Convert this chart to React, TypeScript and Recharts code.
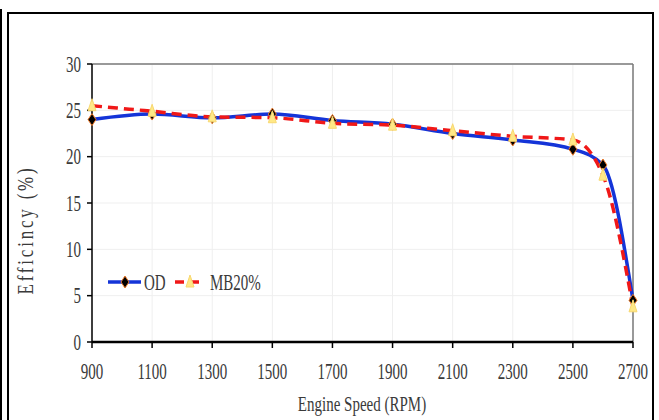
import React from "react";
import { LineChart, Line, XAxis, YAxis, CartesianGrid, ReferenceLine, Legend } from "recharts";

const rpm = [900, 1100, 1300, 1500, 1700, 1900, 2100, 2300, 2500, 2600, 2700];
const od = [24.0, 24.6, 24.2, 24.6, 23.9, 23.5, 22.5, 21.8, 20.8, 19.1, 4.5];
const mb20 = [25.5, 24.9, 24.3, 24.2, 23.6, 23.4, 22.8, 22.2, 21.8, 18.0, 3.8];
const xTicks = [900, 1100, 1300, 1500, 1700, 1900, 2100, 2300, 2500, 2700];
const yTicks = [0, 5, 10, 15, 20, 25, 30];

const data = rpm.map((r, i) => ({ rpm: r, OD: od[i], MB20: mb20[i] }));

const FONT = "'Liberation Serif', 'Times New Roman', serif";
const TEXT = "#3a3a3a";
const SY = 1.55; // the source text is stretched tall

const Diamond = ({ cx, cy }: { cx?: number; cy?: number }) => {
  if (cx == null || cy == null) return null;
  return (
    <polygon
      points={`${cx},${cy - 6} ${cx + 4},${cy} ${cx},${cy + 6} ${cx - 4},${cy}`}
      fill="#000"
      stroke="#f07a28"
      strokeWidth={1}
    />
  );
};

const Triangle = ({ cx, cy }: { cx?: number; cy?: number }) => {
  if (cx == null || cy == null) return null;
  return (
    <polygon
      points={`${cx},${cy - 7} ${cx + 4},${cy + 5} ${cx - 4},${cy + 5}`}
      fill="#ffe886"
      stroke="#f8d870"
      strokeWidth={1}
    />
  );
};

const XTick = ({ x, payload }: any) => (
  <text
    transform={`translate(${x},371) scale(1,${SY})`}
    x={0}
    y={5}
    textAnchor="middle"
    fontFamily={FONT}
    fontSize={15}
    fill={TEXT}
  >
    {payload.value}
  </text>
);

const YTick = ({ y, payload }: any) => (
  <text
    transform={`translate(81,${y}) scale(1,${SY})`}
    x={0}
    y={5}
    textAnchor="end"
    fontFamily={FONT}
    fontSize={15}
    fill={TEXT}
  >
    {payload.value}
  </text>
);

const LegendBox = () => (
  <svg width={170} height={30} style={{ display: "block" }}>
    <line x1={0} y1={12} x2={33} y2={12} stroke="#1434d8" strokeWidth={3.5} />
    <Diamond cx={17} cy={12} />
    <text transform={`translate(36,12) scale(1,${SY})`} y={5} fontFamily={FONT} fontSize={15} fill={TEXT}>OD</text>
    <line x1={67} y1={12} x2={96} y2={12} stroke="#f01818" strokeWidth={3.5} strokeDasharray="9 6" />
    <Triangle cx={82} cy={12} />
    <text transform={`translate(102,12) scale(1,${SY})`} y={5} fontFamily={FONT} fontSize={15} fill={TEXT}>MB20%</text>
  </svg>
);

export default function App() {
  return (
    <div style={{ position: "absolute", left: 0, top: 0, width: 659, height: 420, background: "#fff", overflow: "hidden" }}>
      <div style={{ position: "absolute", left: 0, top: 9, width: 2, height: 420, background: "#000" }} />
      <div
        style={{
          position: "absolute",
          left: 7,
          top: 12,
          width: 647,
          height: 420,
          border: "2px solid #000",
          boxSizing: "border-box",
        }}
      />
      <div style={{ position: "absolute", left: 0, top: 0 }}>
        <LineChart width={659} height={420} data={data} margin={{ top: 34, right: 26, bottom: 0, left: 0 }}>
          <CartesianGrid stroke="#efefef" strokeWidth={1} />
          <XAxis
            dataKey="rpm"
            type="number"
            domain={[900, 2700]}
            ticks={xTicks}
            height={78}
            tickSize={6}
            axisLine={{ stroke: "#000", strokeWidth: 2.5 }}
            tickLine={{ stroke: "#000", strokeWidth: 1.5 }}
            tick={<XTick />}
          />
          <YAxis
            type="number"
            domain={[0, 30]}
            ticks={yTicks}
            width={92}
            tickSize={5}
            axisLine={{ stroke: "#000", strokeWidth: 1.5 }}
            tickLine={{ stroke: "#000", strokeWidth: 1.5 }}
            tick={<YTick />}
          />
          <ReferenceLine y={30} stroke="#7a7a7a" strokeWidth={1.5} />
          <ReferenceLine x={2700} stroke="#7a7a7a" strokeWidth={1.5} />
          <Legend
            content={<LegendBox />}
            layout="horizontal"
            verticalAlign="top"
            align="left"
            wrapperStyle={{ left: 108, top: 270, width: 170 }}
          />
          <Line
            dataKey="OD"
            type="monotone"
            stroke="#1434d8"
            strokeWidth={3.5}
            dot={<Diamond />}
            activeDot={false}
            isAnimationActive={false}
          />
          <Line
            dataKey="MB20"
            type="monotone"
            stroke="#f01818"
            strokeWidth={3.5}
            strokeDasharray="10 6"
            dot={<Triangle />}
            activeDot={false}
            isAnimationActive={false}
          />
        </LineChart>
      </div>
      <div
        style={{
          position: "absolute",
          left: 362,
          top: 405,
          transform: "translate(-50%, -50%) scale(1, 1.4)",
          fontFamily: FONT,
          fontSize: 15,
          color: TEXT,
          whiteSpace: "nowrap",
        }}
      >
        Engine Speed (RPM)
      </div>
      <div
        style={{
          position: "absolute",
          left: 26,
          top: 230,
          transform: "translate(-50%, -50%) rotate(-90deg) scale(1, 1.3)",
          fontFamily: FONT,
          fontSize: 17,
          letterSpacing: 2.8,
          color: TEXT,
          whiteSpace: "nowrap",
        }}
      >
        Efficincy (%)
      </div>
    </div>
  );
}
